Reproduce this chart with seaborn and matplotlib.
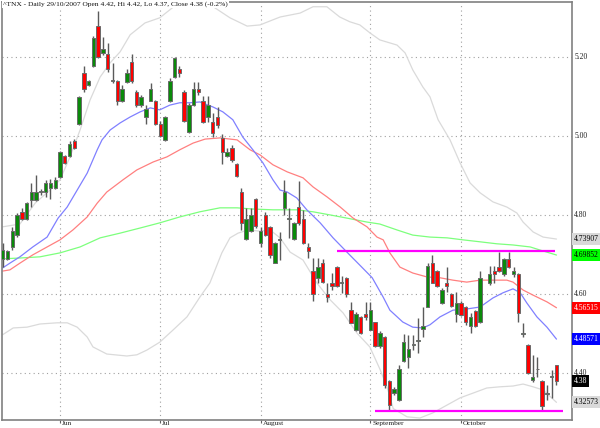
import numpy as np
import pandas as pd
import matplotlib
matplotlib.use("Agg")
import matplotlib.pyplot as plt
import matplotlib.transforms as mtrans
import seaborn as sns

# ---------------- data ----------------
opens = [4.688, 4.689, 4.718, 4.748, 4.808, 4.789, 4.838, 4.838, 4.859, 4.859,
         4.868, 4.868, 4.897, 4.949, 4.949, 4.988, 5.030, 5.159, 5.129, 5.178,
         5.278, 5.209, 5.207, 5.139, 5.139, 5.089, 5.137, 5.188, 5.110, 5.079,
         5.049, 5.089, 5.089, 5.030, 4.990, 5.089, 5.149, 5.169, 5.110, 5.009,
         5.079, 5.118, 5.089, 5.049, 5.036, 5.049, 4.995, 4.948, 4.969, 4.929,
         4.859, 4.738, 4.760, 4.840, 4.728, 4.800, 4.770, 4.679, 4.737, 4.817,
         4.790, 4.738, 4.819, 4.789, 4.718, 4.659, 4.640, 4.679, 4.600, 4.629,
         4.669, 4.629, 4.640, 4.559, 4.509, 4.541, 4.549, 4.510, 4.528, 4.469,
         4.492, 4.380, 4.349, 4.332, 4.431, 4.440, 4.471, 4.481, 4.511, 4.568,
         4.679, 4.659, 4.578, 4.629, 4.600, 4.549, 4.578, 4.568, 4.519, 4.558,
         4.530, None, 4.629, 4.659, 4.669, 4.650, 4.688, 4.650, 4.650, 4.499,
         4.471, 4.381, 4.409, 4.380, 4.348, 4.391, 4.42]
highs = [4.728, 4.712, 4.770, 4.806, 4.817, 4.834, 4.880, 4.901, 4.865, 4.889,
         4.890, 4.897, 4.962, 4.952, 4.988, 4.992, 5.101, 5.176, 5.141, 5.252,
         5.316, 5.250, 5.235, 5.184, 5.141, 5.129, 5.169, 5.208, 5.116, 5.104,
         5.079, 5.133, 5.091, 5.038, 5.051, 5.146, 5.201, 5.176, 5.116, 5.083,
         5.137, 5.137, 5.100, 5.100, 5.057, 5.072, 5.005, 4.969, 4.977, 4.931,
         4.867, 4.817, 4.817, 4.842, 4.770, 4.808, 4.772, 4.732, 4.758, 4.889,
         4.817, 4.783, 4.887, 4.813, 4.728, 4.690, 4.690, 4.688, 4.627, 4.654,
         4.671, 4.646, 4.642, 4.580, 4.555, 4.543, 4.580, 4.580, 4.530, 4.507,
         4.494, 4.382, 4.365, 4.420, 4.499, 4.496, 4.496, 4.538, 4.568, 4.679,
         4.699, 4.661, 4.614, 4.669, 4.602, 4.606, 4.583, 4.570, 4.551, 4.560,
         4.659, None, 4.671, 4.671, 4.707, 4.690, 4.707, 4.667, 4.652, 4.526,
         4.473, 4.446, 4.440, 4.382, 4.370, 4.408, 4.42]
lows = [4.667, 4.686, 4.711, 4.745, 4.787, 4.787, 4.821, 4.836, 4.851, 4.846,
        4.840, 4.865, 4.893, 4.928, 4.946, 4.968, 5.027, 5.110, 5.127, 5.175,
        5.197, 5.205, 5.163, 5.133, 5.079, 5.087, 5.133, 5.133, 5.073, 5.073,
        5.030, 5.088, 5.027, 4.998, 4.988, 5.087, 5.146, 5.149, 5.036, 5.007,
        5.076, 5.104, 5.034, 5.036, 4.998, 5.019, 4.930, 4.946, 4.935, 4.897,
        4.762, 4.737, 4.758, 4.766, 4.718, 4.747, 4.690, 4.678, 4.686, 4.800,
        4.741, 4.736, 4.775, 4.727, 4.690, 4.581, 4.627, 4.627, 4.580, 4.610,
        4.618, 4.602, 4.592, 4.526, 4.507, 4.499, 4.534, 4.508, 4.466, 4.462,
        4.363, 4.305, 4.344, 4.330, 4.429, 4.412, 4.457, 4.450, 4.492, 4.566,
        4.627, 4.617, 4.575, 4.606, 4.566, 4.530, 4.544, 4.521, 4.500, 4.517,
        4.527, None, 4.623, 4.627, 4.656, 4.646, 4.665, 4.644, 4.530, 4.492,
        4.397, 4.378, 4.391, 4.306, 4.332, 4.336, 4.37]
closes = [4.711, 4.709, 4.760, 4.800, 4.789, 4.830, 4.859, 4.859, 4.859, 4.880,
          4.880, 4.889, 4.959, 4.931, 4.979, 4.970, 5.098, 5.118, 5.139, 5.249,
          5.201, 5.219, 5.169, 5.139, 5.089, 5.118, 5.159, 5.139, 5.079, 5.098,
          5.067, 5.118, 5.030, 5.001, 5.049, 5.139, 5.198, 5.159, 5.039, 5.079,
          5.118, 5.110, 5.036, 5.079, 5.008, 5.028, 4.959, 4.959, 4.939, 4.899,
          4.779, 4.789, 4.800, 4.771, 4.760, 4.749, 4.699, 4.728, 4.737, 4.859,
          4.790, 4.779, 4.779, 4.728, 4.710, 4.600, 4.669, 4.631, 4.592, 4.620,
          4.620, 4.629, 4.600, 4.527, 4.549, 4.500, 4.541, 4.559, 4.469, 4.500,
          4.370, 4.319, 4.359, 4.409, 4.479, 4.460, 4.471, 4.481, 4.519, 4.671,
          4.629, 4.619, 4.610, 4.619, 4.570, 4.578, 4.547, 4.530, 4.541, 4.519,
          4.640, None, 4.650, 4.650, 4.659, 4.688, 4.669, 4.659, 4.551, 4.499,
          4.399, 4.391, 4.409, 4.316, 4.348, 4.391, 4.38]

month_idx = [12, 33, 54, 77, 96]
month_labels = ["Jun", "Jul", "August", "September", "October"]
grid_levels = [4.40, 4.60, 4.80, 5.00, 5.20]

upper_x = [0, 3.6, 6.8, 9.9, 12, 14.1, 16.2, 18.3, 20.4, 22.5, 24.6, 26.7, 29.8, 32.9,
           35.5, 38.2, 41.3, 44.1, 47.6, 51.2, 53.9, 58.1, 62.3, 65.0, 67.9, 70.6, 72.7,
           74.8, 76.9, 79.0, 82.6, 84.3, 85.9, 88.0, 89.5, 91.2, 93.7, 95.8, 97.9, 100.0,
           102.7, 105.6, 107.7, 109.0, 111.1, 113.2, 116]
upper_y = [4.770, 4.777, 4.830, 4.863, 4.889, 4.947, 5.015, 5.091, 5.149, 5.185, 5.213,
           5.256, 5.286, 5.299, 5.324, 5.357, 5.370, 5.327, 5.299, 5.278, 5.281, 5.301,
           5.311, 5.327, 5.327, 5.301, 5.289, 5.281, 5.261, 5.243, 5.230, 5.210, 5.167,
           5.124, 5.099, 5.041, 4.990, 4.932, 4.881, 4.856, 4.833, 4.820, 4.805, 4.782,
           4.757, 4.744, 4.739]
lower_x = [0, 2.2, 5.1, 7.8, 11.4, 13.5, 15.6, 17.7, 18.9, 21.8, 26.0, 28.1, 30.2, 32.9,
           35.7, 38.6, 41.3, 43.4, 45.9, 47.6, 49.3, 51.4, 53.9, 56.0, 58.1, 60.2, 62.9,
           65.8, 68.6, 71.3, 74.2, 76.9, 79.0, 80.5, 81.8, 84.7, 87.4, 90.1, 93.1, 95.8,
           98.5, 101.4, 104.1, 106.9, 109.0, 111.1, 113.2, 116]
lower_y = [4.497, 4.514, 4.516, 4.524, 4.527, 4.527, 4.516, 4.491, 4.466, 4.448, 4.443,
           4.446, 4.458, 4.478, 4.509, 4.542, 4.592, 4.628, 4.704, 4.742, 4.754, 4.762,
           4.759, 4.762, 4.742, 4.706, 4.686, 4.628, 4.585, 4.552, 4.501, 4.466, 4.410,
           4.365, 4.310, 4.289, 4.286, 4.299, 4.319, 4.337, 4.349, 4.362, 4.365, 4.367,
           4.372, 4.365, 4.357, 4.3257]
ma20_x = [0, 1.5, 3.6, 6.3, 9.3, 11.6, 13.5, 15.6, 17.7, 19.8, 20.8, 22.5, 24.6, 26.7,
          28.8, 30.9, 32.9, 35.0, 37.1, 39.2, 41.3, 44.1, 46.1, 48.2, 50.3, 52.4, 54.5,
          56.6, 58.1, 59.6, 61.6, 63.7, 66.5, 69.2, 72.1, 74.8, 77.4, 79.7, 81.1, 83.8,
          85.9, 88.0, 89.5, 91.6, 94.3, 97.2, 100.0, 102.7, 104.8, 106.9, 108.4, 109.8,
          111.9, 114.0, 116]
ma20_y = [4.666, 4.678, 4.694, 4.719, 4.744, 4.792, 4.820, 4.863, 4.906, 4.965, 4.990,
          5.015, 5.033, 5.048, 5.061, 5.071, 5.066, 5.078, 5.084, 5.084, 5.086, 5.073,
          5.061, 5.041, 4.997, 4.965, 4.932, 4.889, 4.863, 4.858, 4.843, 4.813, 4.780,
          4.742, 4.706, 4.673, 4.641, 4.592, 4.559, 4.529, 4.516, 4.514, 4.522, 4.542,
          4.559, 4.562, 4.567, 4.590, 4.603, 4.613, 4.603, 4.577, 4.542, 4.516, 4.48571]
ma50_x = [0, 1.5, 3.6, 6.3, 9.3, 12.0, 14.7, 17.7, 19.8, 21.8, 25.2, 28.1, 31.5, 34.4,
          37.1, 39.9, 42.4, 45.5, 49.1, 51.8, 53.9, 56.6, 59.6, 62.9, 65.0, 67.9, 70.7,
          73.4, 76.3, 78.4, 79.7, 81.1, 83.2, 85.9, 88.9, 91.6, 94.3, 97.2, 100.0, 102.7,
          105.6, 106.9, 109.0, 111.1, 114.0, 116]
ma50_y = [4.658, 4.661, 4.678, 4.699, 4.719, 4.737, 4.762, 4.795, 4.830, 4.858, 4.889,
          4.914, 4.934, 4.947, 4.965, 4.982, 4.992, 4.995, 4.990, 4.965, 4.952, 4.927,
          4.909, 4.894, 4.871, 4.846, 4.820, 4.792, 4.770, 4.744, 4.737, 4.704, 4.668,
          4.653, 4.643, 4.641, 4.635, 4.630, 4.635, 4.635, 4.635, 4.630, 4.610, 4.597,
          4.580, 4.56515]
ma200_x = [0, 3.6, 7.8, 12.0, 16.2, 20.4, 24.6, 28.8, 32.9, 37.1, 41.3, 45.5, 49.1,
           52.4, 56.6, 61.6, 65.0, 68.6, 72.1, 76.3, 79.0, 82.6, 85.9, 89.5, 93.1, 96.4,
           100.0, 103.5, 106.9, 110.5, 112.6, 116]
ma200_y = [4.689, 4.691, 4.694, 4.704, 4.719, 4.742, 4.754, 4.767, 4.780, 4.795, 4.808,
           4.818, 4.818, 4.815, 4.813, 4.813, 4.808, 4.800, 4.792, 4.782, 4.777, 4.762,
           4.749, 4.744, 4.742, 4.737, 4.732, 4.727, 4.724, 4.719, 4.711, 4.69852]

resist_level, resist_from, resist_to = 4.710, 70.0, 115.7
support_level, support_from, support_to = 4.303, 78.0, 117.3

end_labels = ["4.73907", "4.69852", "4.56515", "4.48571", "4.38", "4.32573"]
end_values = [4.73907, 4.69852, 4.56515, 4.48571, 4.38, 4.32573]
end_bg = ["#d9d9d9", "#00ff00", "#ff0000", "#0000ff", "#000000", "#d9d9d9"]
end_fg = ["#000000", "#000000", "#ffffff", "#ffffff", "#ffffff", "#000000"]

title = "^TNX - Daily 29/10/2007 Open 4.42, Hi 4.42, Lo 4.37, Close 4.38 (-0.2%)"

# ---------------- style ----------------
sns.set_style("white")
plt.rcParams["font.family"] = ["Liberation Serif", "DejaVu Serif"]

fig = plt.figure(figsize=(6.0, 4.28), dpi=100)
ax = fig.add_axes([2 / 600, 8 / 428, 570 / 600, 418 / 428])

# indicator lines via seaborn
frames = []
for name, xs, ys in [("upper", upper_x, upper_y), ("lower", lower_x, lower_y),
                     ("ma200", ma200_x, ma200_y), ("ma50", ma50_x, ma50_y),
                     ("ma20", ma20_x, ma20_y)]:
    frames.append(pd.DataFrame({"idx": xs, "val": ys, "line": name}))
lines_df = pd.concat(frames, ignore_index=True)
palette = {"upper": "#dadada", "lower": "#dadada", "ma200": "#7dff7d",
           "ma50": "#ff8080", "ma20": "#8080ff"}
sns.lineplot(data=lines_df, x="idx", y="val", hue="line", palette=palette,
             estimator=None, sort=False, linewidth=0.9, legend=False, ax=ax, zorder=2)

# candles
df = pd.DataFrame({"o": opens, "h": highs, "l": lows, "c": closes}, dtype=float)
df["idx"] = np.arange(len(df))
df = df.dropna()
up = df["c"] >= df["o"]
ax.vlines(df["idx"], df["l"], df["h"], color="#5a5a5a", linewidth=1.0, zorder=3)
body_bottom = np.minimum(df["o"], df["c"])
body_h = np.maximum(np.abs(df["c"] - df["o"]), 0.0015)
colors = np.where(up, "#0a8a0a", "#ff0000")
ax.bar(df["idx"], body_h, bottom=body_bottom, width=0.72, color=colors,
       edgecolor="#6a6a6a", linewidth=0.7, zorder=4)

# support/resistance
ax.hlines([resist_level], resist_from, resist_to, color="#ff00ff", linewidth=1.6, zorder=5)
ax.hlines([support_level], support_from, support_to, color="#ff00ff", linewidth=1.6, zorder=5)

# axes
ax.set_xlim(-0.15, 119.25)
ax.set_ylim(4.281, 5.339)
ax.set_xlabel("")
ax.set_ylabel("")
ax.set_yticks(grid_levels)
ax.set_yticklabels([])
ax.tick_params(axis="y", length=0, left=False, right=False)
for v in grid_levels:
    ax.axhline(v, color="#a0a0a0", linewidth=0.8, linestyle=(0, (1, 3)), zorder=1)
for m in month_idx:
    ax.axvline(m, color="#a0a0a0", linewidth=0.8, linestyle=(0, (1, 3)), zorder=1)
ax.set_xticks(month_idx)
ax.set_xticklabels([])
ax.tick_params(axis="x", length=2.5, width=0.8, color="#606060", bottom=True)

xtr = ax.get_xaxis_transform()
offset = mtrans.ScaledTranslation(2 / 100, 0, fig.dpi_scale_trans)
for m, lab in zip(month_idx, month_labels):
    ax.text(m, -0.003, lab, transform=xtr + offset, fontsize=5.3, va="top", ha="left",
            color="#202020", clip_on=False)

for s in ["left", "right", "top", "bottom"]:
    ax.spines[s].set_color("#808080")
    ax.spines[s].set_linewidth(1.2)

ytr = ax.get_yaxis_transform()
for v in grid_levels:
    ax.text(1.004, v, f"{v:.2f}", transform=ytr, fontsize=5.5, va="center", ha="left",
            color="#202020", clip_on=False)
for lab, v, bg, fg in zip(end_labels, end_values, end_bg, end_fg):
    ax.text(1.003, v, lab, transform=ytr, fontsize=5.5, va="center", ha="left",
            color=fg, clip_on=False,
            bbox=dict(facecolor=bg, edgecolor="none", boxstyle="square,pad=0.25"), zorder=10)

fig.text(3 / 600, 1 - 1 / 428, title, fontsize=5.4, va="top", ha="left", color="#101010",
         bbox=dict(facecolor="white", edgecolor="none", boxstyle="square,pad=0.15"), zorder=20)

fig.savefig("out.png", dpi=100, facecolor="white")
